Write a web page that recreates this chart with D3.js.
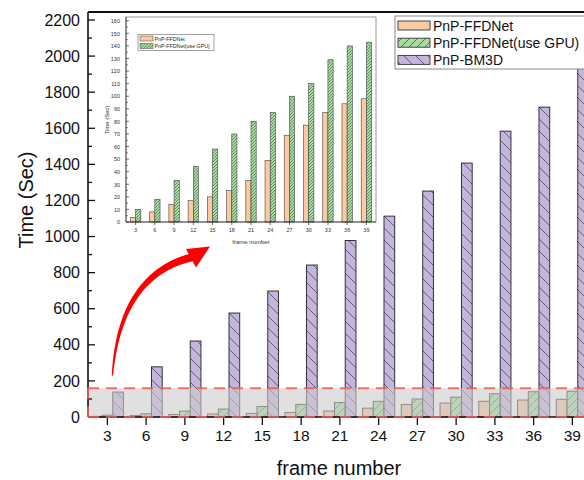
<!DOCTYPE html>
<html><head><meta charset="utf-8">
<script src="https://cdn.jsdelivr.net/npm/d3@7"></script>
<style>body{margin:0;background:#fff}svg{display:block}text{font-family:"Liberation Sans",Arial,sans-serif}</style>
</head><body>
<svg id="c" width="584" height="480"></svg>
<script>
const frames = ["3","6","9","12","15","18","21","24","27","30","33","36","39"];
const ffdnet = [3.5, 8, 14, 17, 20, 25, 33, 49, 69, 77, 87, 94, 98];
const ffdnetGPU = [10, 18, 33, 44, 58, 70, 80, 87, 100, 110, 129, 140, 143];
const bm3d = [138, 278, 421, 576, 698, 842, 978, 1113, 1252, 1407, 1584, 1717, 1967];
const seriesNames = ["PnP-FFDNet", "PnP-FFDNet(use GPU)", "PnP-BM3D"];
const yTicksMain = d3.range(0, 2201, 200);
const yTicksInset = d3.range(0, 161, 10);

const svg = d3.select("#c");
const defs = svg.append("defs");
function hatch(id, fill, stroke, s, dir, sw){
  const p = defs.append("pattern").attr("id", id).attr("patternUnits","userSpaceOnUse")
    .attr("width", s).attr("height", s);
  p.append("rect").attr("width", s).attr("height", s).attr("fill", fill);
  const d = dir === "/" ? `M0,${s} L${s},0 M${-1},1 L1,${-1} M${s-1},${s+1} L${s+1},${s-1}`
                        : `M0,0 L${s},${s} M${-1},${s-1} L1,${s+1} M${s-1},${-1} L${s+1},1`;
  p.append("path").attr("d", d).attr("stroke", stroke).attr("stroke-width", sw);
}
const cOrange = "#fbc9a2", cGreen = "#a9dba3", cPurple = "#c4b5dc";
hatch("gMain", cGreen, "#3f7a3f", 8, "/", 0.9);
hatch("pMain", cPurple, "#5d5075", 12, "\\", 0.9);
hatch("gIn", cGreen, "#2f5f2f", 3, "/", 0.6);
const fills = [cOrange, "url(#gMain)", "url(#pMain)"];

// ---------- main chart ----------
const L = 88, B = 417, T = 12;
const x = d3.scaleBand().domain(frames).range([L, L + 13*38.75]);
const x1 = d3.scaleBand().domain([0,1,2]).range([0, x.bandwidth()*0.83]);
const y = d3.scaleLinear().domain([0, 2200]).range([B, 20]);
const data = frames.map((f,i)=>({f, v:[ffdnet[i], ffdnetGPU[i], bm3d[i]]}));
const off = (x.bandwidth() - x1.range()[1]) / 2;

const g = svg.append("g");
data.forEach(d=>{
  d.v.forEach((v,k)=>{
    g.append("rect")
      .attr("x", x(d.f) + off + x1(k))
      .attr("y", y(v))
      .attr("width", x1.bandwidth())
      .attr("height", B - y(v))
      .attr("fill", fills[k]).attr("stroke", "#333").attr("stroke-width", 1);
  });
});

// gray zoom region overlay
svg.append("rect").attr("x", L).attr("y", y(160)).attr("width", 584 - L).attr("height", B - y(160))
  .attr("fill", "#cccccc").attr("opacity", 0.6);

// axes
const yAxis = svg.append("g").attr("transform", `translate(${L},0)`)
  .call(d3.axisLeft(y).tickValues(yTicksMain).tickFormat(d3.format("d")).tickSize(0).tickPadding(8));
yAxis.select(".domain").remove();
yAxis.selectAll("text").attr("font-size", 16).attr("fill", "#111");
svg.append("g").selectAll("line").data(d3.range(0, 2201, 100)).join("line")
  .attr("x1", L).attr("x2", d => d % 200 === 0 ? L + 7 : L + 4)
  .attr("y1", d => y(d)).attr("y2", d => y(d)).attr("stroke", "#111").attr("stroke-width", 1.3);
svg.append("line").attr("x1", L).attr("x2", L).attr("y1", T).attr("y2", B).attr("stroke", "#111").attr("stroke-width", 1.6);
svg.append("line").attr("x1", L).attr("x2", 584).attr("y1", T).attr("y2", T).attr("stroke", "#111").attr("stroke-width", 2);

const xAxis = svg.append("g").attr("transform", `translate(0,${B})`)
  .call(d3.axisBottom(x).tickSize(8).tickPadding(5));
xAxis.select(".domain").remove();
xAxis.selectAll("line").attr("stroke", "#111").attr("stroke-width", 1.3);
xAxis.selectAll("text").attr("font-size", 15.5).attr("fill", "#111");
svg.append("line").attr("x1", L).attr("x2", 584).attr("y1", B).attr("y2", B).attr("stroke", "#111").attr("stroke-width", 1.6);

// red dashed box
const red = {stroke:"#f05a5a", "stroke-width":2, "stroke-dasharray":"11,7", opacity:0.85};
function rl(x1_,y1_,x2_,y2_){ const l = svg.append("line").attr("x1",x1_).attr("y1",y1_).attr("x2",x2_).attr("y2",y2_); for(const k in red) l.attr(k, red[k]); }
rl(L, y(160), 584, y(160));
rl(L, B, 584, B);
rl(L, y(160), L, B);

svg.append("text").attr("x", 339).attr("y", 475).attr("text-anchor","middle").attr("font-size", 20).attr("fill","#111").text("frame number");
svg.append("text").attr("transform", `translate(33,200) rotate(-90)`).attr("text-anchor","middle").attr("font-size", 20).attr("fill","#111").text("Time (Sec)");

// main legend
const lg = svg.append("g");
lg.append("rect").attr("x", 395).attr("y", 16).attr("width", 194).attr("height", 53).attr("fill","#fff").attr("stroke","#888").attr("stroke-width",1);
seriesNames.forEach((n,k)=>{
  const cy = 25.5 + k*17.2;
  lg.append("rect").attr("x", 398).attr("y", cy-4.5).attr("width", 32).attr("height", 9).attr("fill", fills[k]).attr("stroke","#333").attr("stroke-width",0.9);
  lg.append("text").attr("x", 433).attr("y", cy+5).attr("font-size", 14).attr("fill","#111").text(n);
});

// red curved arrow (annotation)
(function(){
  const p0 = [x("3") + x.bandwidth()/2 + 5, y(230)], c = [120, y(790)], p1 = [193, 257];
  const N = 40, left = [], right = [];
  for(let i=0;i<=N;i++){
    const t = i/N, mt = 1-t;
    const px = mt*mt*p0[0] + 2*mt*t*c[0] + t*t*p1[0];
    const py = mt*mt*p0[1] + 2*mt*t*c[1] + t*t*p1[1];
    const dx = 2*mt*(c[0]-p0[0]) + 2*t*(p1[0]-c[0]);
    const dy = 2*mt*(c[1]-p0[1]) + 2*t*(p1[1]-c[1]);
    const len = Math.hypot(dx,dy), nx = -dy/len, ny = dx/len;
    const w = 0.6 + 3.4*Math.pow(t, 0.8);
    left.push([px + nx*w, py + ny*w]); right.push([px - nx*w, py - ny*w]);
  }
  const pts = left.concat(right.reverse());
  svg.append("path").attr("d", d3.line()(pts) + "Z").attr("fill", "#ff0000");
  svg.append("path").attr("d", d3.line()([[210,246.5],[186,249],[196,267.5]]) + "Z").attr("fill","#ff0000");
})();

// ---------- inset ----------
const iL = 126, iR = 376, iB = 222, iT = 17;
const xi = d3.scaleBand().domain(frames).range([iL, iR]);
const xi1 = d3.scaleBand().domain([0,1]).range([0, xi.bandwidth()*0.54]);
const yi = d3.scaleLinear().domain([0, 163]).range([iB, iT]);
const ioff = (xi.bandwidth() - xi1.range()[1]) / 2;
const ig = svg.append("g");
ig.append("line").attr("x1", iL).attr("x2", iR).attr("y1", iT).attr("y2", iT).attr("stroke","#999").attr("stroke-width",1);
ig.append("line").attr("x1", iR).attr("x2", iR).attr("y1", iT).attr("y2", iB).attr("stroke","#999").attr("stroke-width",1);
const ifills = [cOrange, "url(#gIn)"];
frames.forEach((f,i)=>{
  [ffdnet[i], ffdnetGPU[i]].forEach((v,k)=>{
    ig.append("rect").attr("x", xi(f) + ioff + xi1(k)).attr("y", yi(v))
      .attr("width", xi1.bandwidth()).attr("height", iB - yi(v))
      .attr("fill", ifills[k]).attr("stroke","#444").attr("stroke-width",0.6);
  });
});
const iy = ig.append("g").attr("transform", `translate(${iL},0)`)
  .call(d3.axisLeft(yi).tickValues(yTicksInset).tickSize(0).tickPadding(6));
iy.select(".domain").remove();
iy.selectAll("text").attr("font-size", 5.5).attr("fill","#333");
ig.append("g").selectAll("line").data(d3.range(0, 161, 5)).join("line")
  .attr("x1", iL).attr("x2", d => d % 10 === 0 ? iL+3 : iL+1.8)
  .attr("y1", d=>yi(d)).attr("y2", d=>yi(d)).attr("stroke","#333").attr("stroke-width",0.7);
ig.append("line").attr("x1", iL).attr("x2", iL).attr("y1", iT).attr("y2", iB).attr("stroke","#222").attr("stroke-width",1);
const ix = ig.append("g").attr("transform", `translate(0,${iB})`)
  .call(d3.axisBottom(xi).tickSize(3).tickPadding(3));
ix.select(".domain").remove();
ix.selectAll("line").attr("stroke","#333").attr("stroke-width",0.7);
ix.selectAll("text").attr("font-size", 5.5).attr("fill","#333");
ig.append("line").attr("x1", iL).attr("x2", iR).attr("y1", iB).attr("y2", iB).attr("stroke","#222").attr("stroke-width",1);
ig.append("text").attr("x", 251).attr("y", 244).attr("text-anchor","middle").attr("font-size", 6).attr("fill","#333").text("frame number");
ig.append("text").attr("transform", `translate(109,120) rotate(-90)`).attr("text-anchor","middle").attr("font-size", 6).attr("fill","#333").text("Time (Sec)");
ig.append("rect").attr("x", 138).attr("y", 34.5).attr("width", 76).attr("height", 16).attr("fill","#fff").attr("stroke","#666").attr("stroke-width",0.6);
seriesNames.slice(0,2).forEach((n,k)=>{
  const cy = 38.5 + k*7.5;
  ig.append("rect").attr("x", 140).attr("y", cy-2.5).attr("width", 13).attr("height", 5).attr("fill", ifills[k]).attr("stroke","#444").attr("stroke-width",0.5);
  ig.append("text").attr("x", 154.5).attr("y", cy+2).attr("font-size", 5.3).attr("fill","#222").text(n);
});
</script>
</body></html>
